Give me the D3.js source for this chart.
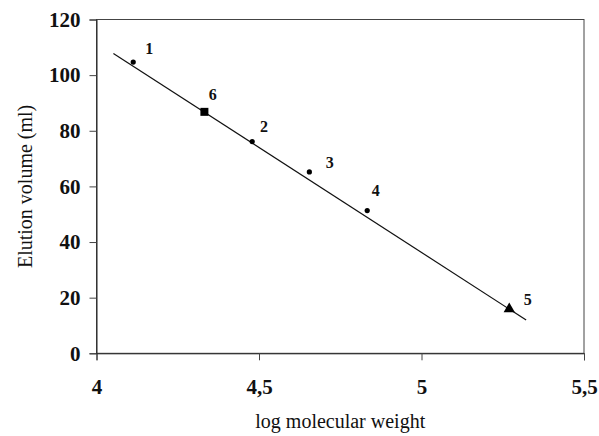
<!DOCTYPE html>
<html><head><meta charset="utf-8">
<script src="https://cdn.jsdelivr.net/npm/d3@7"></script>
<style>body{margin:0;background:#fff}svg{display:block}
svg text{font-family:"Liberation Serif","Times New Roman",Times,"DejaVu Serif",serif;}</style>
</head><body>
<script>
const pointIds = ["1","6","2","3","4","5"];
const logMW = [4.113, 4.332, 4.479, 4.655, 4.833, 5.270];
const elution = [104.7, 86.8, 76.1, 65.2, 51.3, 15.9];
const markerType = ["dot","square","dot","dot","dot","triangle"];
const labelLogMW = [4.162, 4.358, 4.515, 4.718, 4.859, 5.327];
const labelElution = [109.6, 93.1, 81.4, 68.6, 58.7, 19.5];
const fitX = [4.052, 5.322];
const fitY = [107.8, 11.96];
const xTicks = [4, 4.5, 5, 5.5];
const xTickLabels = ["4", "4,5", "5", "5,5"];
const yTicks = [0, 20, 40, 60, 80, 100, 120];

const W = 599, H = 436;
const m = {left: 96.5, right: 584, top: 19.5, bottom: 353.3};
const svg = d3.select("body").append("svg").attr("width", W).attr("height", H);
const x = d3.scaleLinear().domain([4, 5.5]).range([m.left, m.right]);
const y = d3.scaleLinear().domain([0, 120]).range([m.bottom, m.top]);

svg.append("rect").attr("x", m.left).attr("y", m.top)
  .attr("width", m.right - m.left).attr("height", m.bottom - m.top)
  .attr("fill", "none").attr("stroke", "#444").attr("stroke-width", 1);

const xAxis = svg.append("g").attr("transform", `translate(0,${m.bottom})`)
  .call(d3.axisBottom(x).tickValues(xTicks).tickFormat((d,i) => xTickLabels[i]).tickSize(7).tickPadding(19));
const yAxis = svg.append("g").attr("transform", `translate(${m.left},0)`)
  .call(d3.axisLeft(y).tickValues(yTicks).tickSize(7).tickPadding(9));
[xAxis, yAxis].forEach(a => {
  a.attr("font-family", null);
  a.select(".domain").attr("stroke", "#222");
  a.selectAll(".tick line").attr("stroke", "#444");
  a.selectAll("text").style("font-size", "21px")
    .style("font-weight", "bold").attr("fill", "#111");
});

svg.append("line")
  .attr("x1", x(fitX[0])).attr("y1", y(fitY[0]))
  .attr("x2", x(fitX[1])).attr("y2", y(fitY[1]))
  .attr("stroke", "#111").attr("stroke-width", 1.2);

const pts = logMW.map((v, i) => ({x: v, y: elution[i], t: markerType[i], id: pointIds[i], lx: labelLogMW[i], ly: labelElution[i]}));
pts.forEach(p => {
  const cx = x(p.x), cy = y(p.y);
  if (p.t === "dot") {
    svg.append("circle").attr("cx", cx).attr("cy", cy).attr("r", 2.6).attr("fill", "#000");
  } else if (p.t === "square") {
    svg.append("path").attr("transform", `translate(${cx},${cy})`)
      .attr("d", d3.symbol(d3.symbolSquare, 64)()).attr("fill", "#000");
  } else {
    svg.append("path").attr("transform", `translate(${cx},${cy})`)
      .attr("d", d3.symbol(d3.symbolTriangle, 55)()).attr("fill", "#000");
  }
  svg.append("text").attr("x", x(p.lx)).attr("y", y(p.ly))
    .attr("text-anchor", "middle").attr("dominant-baseline", "central")
    .style("font-size", "16px").style("font-weight", "bold")
    .attr("fill", "#111").text(p.id);
});

svg.append("text").attr("x", (m.left + m.right) / 2).attr("y", 428)
  .attr("text-anchor", "middle").style("font-size", "20px")
  .attr("fill", "#111").text("log molecular weight");
svg.append("text").attr("transform", `translate(32,${(m.top + m.bottom) / 2}) rotate(-90)`)
  .attr("text-anchor", "middle").style("font-size", "20px")
  .attr("fill", "#111").text("Elution volume (ml)");
</script>
</body></html>
